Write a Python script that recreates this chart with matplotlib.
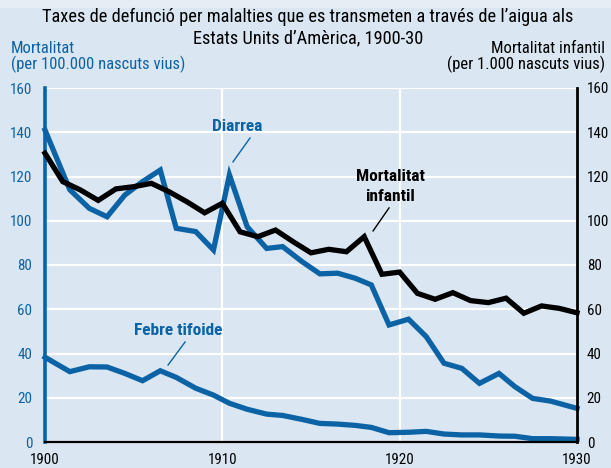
import matplotlib
matplotlib.use("Agg")
import matplotlib.pyplot as plt
from matplotlib import font_manager
from matplotlib.patches import Rectangle

# diarrhoea and typhoid points sit at mid-year in the original chart
disease_years = [1900, 1901.4, 1902.5, 1903.5, 1904.5, 1905.5, 1906.5, 1907.4, 1908.5,
                 1909.5, 1910.4, 1911.4, 1912.5, 1913.4, 1914.5, 1915.5, 1916.5, 1917.5,
                 1918.4, 1919.4, 1920.5, 1921.5, 1922.5, 1923.5, 1924.5, 1925.6, 1926.5,
                 1927.5, 1928.5, 1930]
diarrea = [141, 114, 105.6, 101.8, 111.6, 117.7, 122.9, 96.6, 95.1,
           86.8, 120.7, 97.3, 87.5, 88.3, 81.5, 76, 76.3, 74,
           71, 52.9, 55.5, 47.6, 35.6, 33.3, 26.5, 31, 25,
           19.7, 18.5, 15.2]
febre_tifoide = [38.3, 31.8, 34, 33.9, 31, 27.7, 32.2, 29.2, 24.3,
                 21.2, 17.5, 14.8, 12.6, 12.0, 10.2, 8.4, 8.1, 7.5,
                 6.6, 4.2, 4.4, 4.8, 3.6, 3.2, 3.2, 2.7, 2.6,
                 1.5, 1.5, 1.2]

infant_years = list(range(1900, 1931))
mortalitat_infantil = [130.5, 117.7, 113.9, 109.2, 114.4, 115.4, 116.9, 113.1, 108.6, 103.6,
                       107.9, 95, 92.8, 95.8, 90.5, 85.5, 87.1, 86, 92.8, 75.8,
                       76.8, 67.2, 64.5, 67.5, 63.9, 63, 65, 58.2, 61.5, 60.4,
                       58.4]

y_ticks = [0, 20, 40, 60, 80, 100, 120, 140, 160]
x_ticks = [1900, 1910, 1920, 1930]

title_lines = ["Taxes de defunció per malalties que es transmeten a través de l’aigua als",
               "Estats Units d’Amèrica, 1900-30"]

BG = "#dae6f1"
BLUE = "#0b63a5"


def pick_font():
    for name in ["Liberation Sans Narrow", "Arial Narrow", "Roboto Condensed",
                 "DejaVu Sans Condensed", "Liberation Sans"]:
        try:
            font_manager.findfont(name, fallback_to_default=False)
            return name
        except ValueError:
            pass
    return "DejaVu Sans"


plt.rcParams["font.family"] = [pick_font(), "DejaVu Sans"]

fig = plt.figure(figsize=(6.11, 4.68), dpi=100)
fig.patch.set_facecolor(BG)
fig.patches.append(Rectangle((0, 0.983), 1, 0.017, transform=fig.transFigure,
                             facecolor="#e6edf5", edgecolor="none", zorder=0))

ax = fig.add_axes([45 / 611, 26 / 468, 532 / 611, 354 / 468])
ax.set_facecolor(BG)
ax2 = ax.twinx()

for a in (ax, ax2):
    a.set_xlim(1900, 1930)
    a.set_ylim(0, 160)
    a.set_yticks(y_ticks)
    for s in a.spines.values():
        s.set_visible(False)

ax.grid(True, color="white", linewidth=1.6)
ax.set_axisbelow(True)
ax.set_xticks(x_ticks)
ax.tick_params(axis="x", length=0, pad=8, labelsize=10.8, labelcolor="black")
ax.tick_params(axis="y", length=0, pad=9, labelsize=10.8, labelcolor=BLUE)
ax2.tick_params(axis="y", length=0, pad=7, labelsize=10.8, labelcolor="black")

ax.spines["left"].set_visible(True)
ax.spines["left"].set_color(BLUE)
ax.spines["left"].set_linewidth(2.6)
ax.spines["bottom"].set_visible(True)
ax.spines["bottom"].set_color("black")
ax.spines["bottom"].set_linewidth(1.6)
ax2.spines["right"].set_visible(True)
ax2.spines["right"].set_color("black")
ax2.spines["right"].set_linewidth(2.0)

ax.plot(disease_years, diarrea, color=BLUE, linewidth=3.8, solid_joinstyle="miter", clip_on=False)
ax.plot(disease_years, febre_tifoide, color=BLUE, linewidth=3.8, solid_joinstyle="miter", clip_on=False)
ax2.plot(infant_years, mortalitat_infantil, color="black", linewidth=3.8, solid_joinstyle="miter",
         clip_on=False)

# series labels with leader lines
ax.text(1910.86, 142.4, "Diarrea", color=BLUE, fontsize=12.5, fontweight="bold",
        ha="center", va="center")
ax.plot([1911.56, 1910.6], [137.4, 126.6], color=BLUE, linewidth=1)
ax.text(1919.46, 115.5, "Mortalitat\ninfantil", color="black", fontsize=12.5, fontweight="bold",
        ha="center", va="center", linespacing=1.35)
ax.plot([1919.4, 1918.5], [105.8, 95.4], color="black", linewidth=1)
ax.text(1907.5, 50.6, "Febre tifoide", color=BLUE, fontsize=12.5, fontweight="bold",
        ha="center", va="center")
ax.plot([1907.9, 1906.94], [45.2, 34.8], color=BLUE, linewidth=1)

# title in two separate lines
fig.text(0.504, 1 - 17 / 468, title_lines[0], ha="center", va="center",
         fontsize=13.2, color="black")
fig.text(0.504, 1 - 38 / 468, title_lines[1], ha="center", va="center",
         fontsize=13.2, color="black")
fig.text(11 / 611, 1 - 57 / 468, "Mortalitat\n(per 100.000 nascuts vius)",
         ha="left", va="center", fontsize=12.0, color=BLUE, linespacing=1.05)
fig.text(605 / 611, 1 - 57 / 468, "Mortalitat infantil\n(per 1.000 nascuts vius)",
         ha="right", va="center", fontsize=12.0, color="black", linespacing=1.05)

fig.savefig("out.png", dpi=100, facecolor=BG)
